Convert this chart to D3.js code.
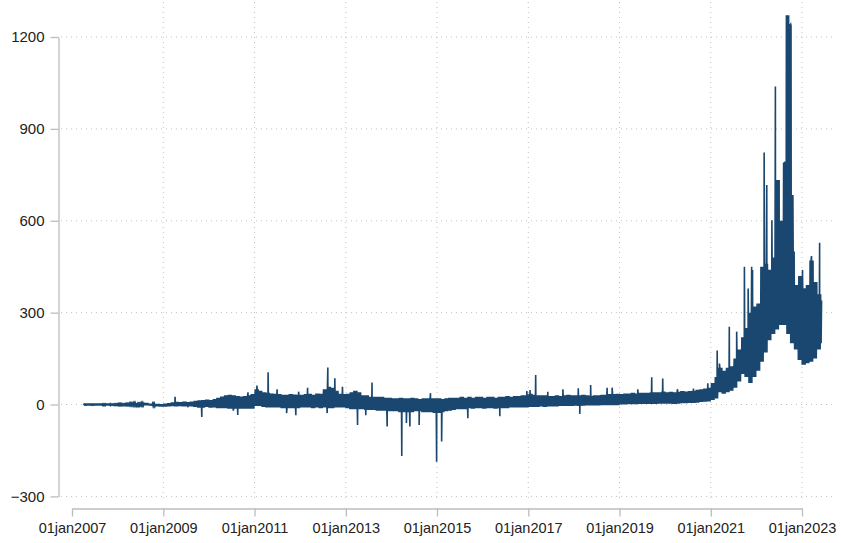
<!DOCTYPE html>
<html>
<head>
<meta charset="utf-8">
<script src="https://cdn.jsdelivr.net/npm/d3@7"></script>
<style>
  body { margin: 0; background: #fff; }
  text { font-family: "Liberation Sans", Arial, sans-serif; }
</style>
</head>
<body>
<div id="my_chart"></div>
<script>
// monthly band (typical low / high of the daily series), from Apr 2007 to Jun 2023
var firstMonth = '2007-04-01';
var lastDay = '2023-06-10';

var bandLow = [
  -1, -1, -1, -1, -1, -2, -1, -1, -2,                         // 2007 (apr-dec)
  -2, -2, -2, -2, -2, -3, -2, -3, -3, -4, -6, -7,             // 2008
  -7, -6, -5, -6, -5, -6, -5, -6, -8, -10, -10, -8,           // 2009
  -10, -10, -12, -12, -12, -14, -14, -14, -14, -14, -14, -14, // 2010
  -5, -5, -8, -10, -10, -10, -10, -12, -12, -12, -12, -12,    // 2011
  -10, -10, -10, -12, -10, -12, -10, -12, -12, -10, -10, -10, // 2012
  -12, -15, -15, -15, -15, -18, -18, -18, -20, -20, -20, -22, // 2013
  -22, -22, -25, -25, -25, -25, -22, -22, -25, -25, -25, -28, // 2014
  -28, -25, -22, -20, -18, -15, -15, -15, -12, -14, -12, -12, // 2015
  -14, -12, -12, -14, -12, -12, -12, -10, -10, -10, -10, -10, // 2016
  -8, -8, -8, -6, -8, -6, -6, -6, -5, -5, -5, -5,             // 2017
  -4, -5, -4, -3, -3, -3, -3, -2, -2, -2, -2, -2,             // 2018
  0, 0, 1, 1, 1, 2, 2, 2, 2, 2, 3, 3,                         // 2019
  3, 3, 2, 3, 4, 4, 5, 5, 6, 8, 9, 10,                        // 2020
  15, 20, 40, 35, 40, 45, 55, 75, 100, 90, 70, 90,            // 2021
  110, 140, 170, 210, 230, 245, 260, 260, 230, 200, 180, 145, // 2022
  130, 135, 140, 150, 180, 200                                // 2023 (jan-jun)
];

var bandHigh = [
  1, 1, 1, 1, 1, 1, 1, 1, 1,
  2, 1, 2, 3, 4, 2, 4, 5, 3, 2, 2, 1,
  3, 5, 7, 9, 8, 10, 8, 10, 12, 14, 15, 16,
  15, 18, 22, 26, 30, 32, 30, 28, 26, 28, 30, 34,
  50, 45, 40, 38, 36, 35, 34, 32, 32, 34, 33, 32,
  32, 34, 35, 32, 36, 35, 50, 58, 55, 45, 35, 34,
  35, 40, 45, 40, 30, 30, 25, 25, 25, 25, 22, 22,
  20, 20, 22, 20, 20, 22, 20, 18, 20, 20, 20, 20,
  20, 18, 20, 22, 22, 22, 25, 22, 25, 22, 25, 25,
  22, 25, 25, 22, 25, 25, 28, 25, 28, 28, 30, 30,
  35, 32, 30, 30, 30, 28, 28, 30, 28, 30, 32, 30,
  30, 30, 32, 30, 28, 30, 30, 32, 32, 34, 34, 35,
  34, 36, 36, 38, 36, 38, 38, 38, 40, 40, 40, 42,
  40, 42, 40, 42, 44, 42, 44, 45, 48, 50, 52, 55,
  70, 90, 120, 110, 120, 125, 150, 180, 220, 250, 300, 320,
  330, 450, 460, 440, 480, 560, 600, 790, 1240, 500, 390, 420,
  380, 390, 470, 400, 360, 340
];

// single-day spikes and dips outside the band
var spikeDates = [
  '2007-11-06', '2008-08-01', '2009-04-05', '2009-07-15', '2009-11-05',
  '2010-07-15', '2010-08-20', '2010-11-10', '2011-01-20', '2011-04-20',
  '2011-07-01', '2011-09-15', '2011-11-28', '2011-12-20', '2012-03-01',
  '2012-08-05', '2012-08-10', '2012-10-05', '2012-12-05', '2013-04-05',
  '2013-06-10', '2013-07-30', '2013-11-28', '2014-03-25', '2014-05-01',
  '2014-05-29', '2014-08-11', '2014-11-10', '2014-12-29', '2015-02-07',
  '2015-09-05', '2016-05-18', '2016-12-20', '2017-01-15', '2017-03-01',
  '2017-06-06', '2017-10-05', '2018-02-05', '2018-02-17', '2018-05-15',
  '2018-09-24', '2018-11-03', '2019-05-27', '2019-09-16', '2019-12-13',
  '2020-04-10', '2020-08-15', '2020-12-08', '2021-02-21', '2021-03-11',
  '2021-05-29', '2021-07-27', '2021-09-27', '2021-10-27', '2021-11-24',
  '2021-12-01', '2022-03-04', '2022-03-25', '2022-05-05', '2022-06-02',
  '2022-06-14', '2022-06-20', '2022-06-26', '2022-07-02', '2022-08-17',
  '2022-08-29', '2022-09-02', '2022-09-06', '2022-09-10', '2022-09-16',
  '2022-09-20', '2022-09-26', '2022-10-01', '2022-10-05', '2022-10-09',
  '2022-10-14', '2022-10-20', '2022-12-17', '2023-01-05', '2023-03-18',
  '2023-05-22'
];
var spikeValues = [
  -6, 6, 25, -9, -41,
  -20, -34, 40, 62, 105,
  50, -28, -35, 42, 55,
  -28, 121, 86, 58, -67,
  -35, 72, -72, -168, -60,
  -72, -67, 37, -187, -121,
  -45, -38, 44, 47, 96,
  42, 50, 53, -31, 64,
  55, 55, 50, 89, 85,
  50, 52, 69, 176, 134,
  254, 238, 450, 379, 450,
  439, 823, 717, 602, 1038,
  733, 733, 727, 733, 793,
  1271, 1271, 1265, 1271, 1271,
  1241, 1241, 1241, 1241, 684,
  684, 684, 417, 439, 485,
  528
];

var yTicks = [-300, 0, 300, 600, 900, 1200];
var xTickYears = [2007, 2009, 2011, 2013, 2015, 2017, 2019, 2021, 2023];

var width = 841, height = 543;

var svg = d3.select('#my_chart')
    .append('svg')
    .attr('width', width)
    .attr('height', height);

var parse = d3.timeParse('%Y-%m-%d');

var x = d3.scaleTime()
    .domain([new Date(2007, 0, 1), new Date(2023, 0, 1)])
    .range([72, 802]);

var y = d3.scaleLinear()
    .domain([-300, 1200])
    .range([496.4, 37]);

// build the daily-looking series: zigzag between band low and high, plus spikes
var points = [];
var start = parse(firstMonth);
var end = parse(lastDay);
var steps = 8;
bandLow.forEach(function (lo, i) {
    var hi = bandHigh[i];
    var m0 = d3.timeMonth.offset(start, i);
    var m1 = d3.timeMonth.offset(start, i + 1);
    for (var k = 0; k < steps; k++) {
        var t = new Date(m0.getTime() + (k + 0.5) / steps * (m1 - m0));
        if (t > end) break;
        points.push({ date: t, value: k % 2 === 0 ? lo : hi });
    }
});
spikeDates.forEach(function (d, i) {
    points.push({ date: parse(d), value: spikeValues[i] });
});
points.sort(function (a, b) { return a.date - b.date; });

// grid lines (dotted)
var grid = svg.append('g');
grid.selectAll('line.h')
    .data(yTicks)
    .enter()
    .append('line')
    .attr('x1', 61).attr('x2', 832)
    .attr('y1', function (d) { return y(d); })
    .attr('y2', function (d) { return y(d); })
    .attr('stroke', '#c2c2c2')
    .attr('stroke-width', 1)
    .attr('stroke-dasharray', '1,4');

grid.selectAll('line.v')
    .data(xTickYears.slice(1))
    .enter()
    .append('line')
    .attr('y1', 2).attr('y2', 499)
    .attr('x1', function (d) { return x(new Date(d, 0, 1)); })
    .attr('x2', function (d) { return x(new Date(d, 0, 1)); })
    .attr('stroke', '#c2c2c2')
    .attr('stroke-width', 1)
    .attr('stroke-dasharray', '1,4');

// axes
var yAxis = svg.append('g')
    .attr('transform', 'translate(58.5,0)')
    .call(d3.axisLeft(y).tickValues(yTicks).tickFormat(d3.format('d'))
        .tickSize(8).tickSizeOuter(0).tickPadding(6));

var fmt = d3.timeFormat('%d%b%Y');
var xAxis = svg.append('g')
    .attr('transform', 'translate(0,508.5)')
    .call(d3.axisBottom(x)
        .tickValues(xTickYears.map(function (d) { return new Date(d, 0, 1); }))
        .tickFormat(function (d) { return fmt(d).toLowerCase(); })
        .tickSize(8).tickSizeOuter(0).tickPadding(6));

[yAxis, xAxis].forEach(function (g) {
    g.select('.domain').attr('stroke', '#bdbdbd').attr('stroke-width', 1.3);
    g.selectAll('.tick line').attr('stroke', '#bdbdbd').attr('stroke-width', 1.3);
    g.selectAll('.tick text')
        .attr('fill', '#222')
        .style('font-family', '"Liberation Sans", Arial, sans-serif');
});
yAxis.selectAll('.tick text').style('font-size', '15px');
xAxis.selectAll('.tick text').style('font-size', '14.5px');

// the series
var line = d3.line()
    .x(function (d) { return x(d.date); })
    .y(function (d) { return y(d.value); });

svg.append('path')
    .datum(points)
    .attr('d', line)
    .attr('fill', 'none')
    .attr('stroke', '#1a476f')
    .attr('stroke-width', 1.6)
    .attr('stroke-linejoin', 'miter');
</script>
</body>
</html>
